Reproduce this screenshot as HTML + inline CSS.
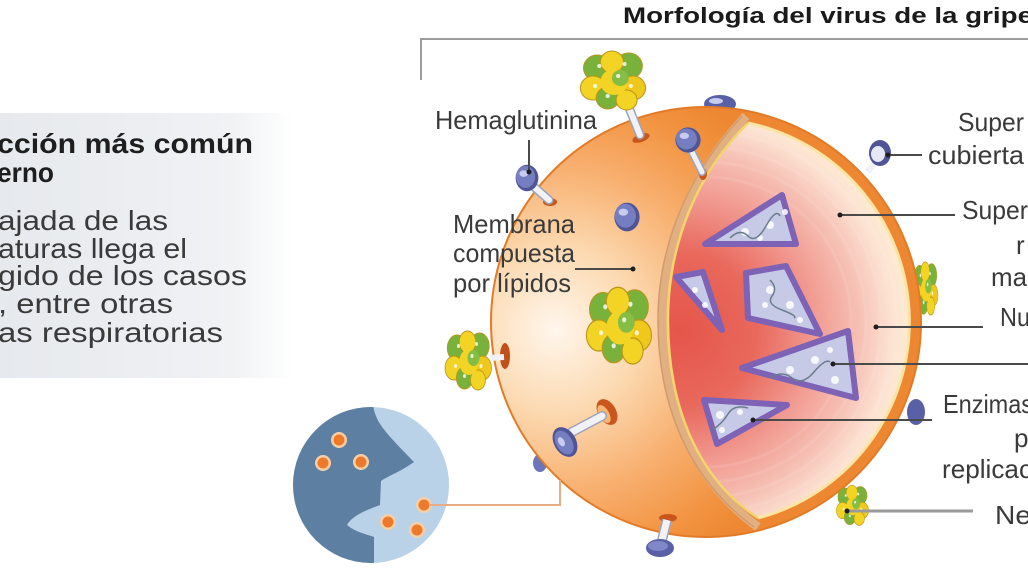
<!DOCTYPE html>
<html><head><meta charset="utf-8">
<style>
html,body{margin:0;padding:0;background:#fff;}
svg{display:block;}
text{font-family:"Liberation Sans",sans-serif;}
</style></head>
<body>
<svg width="1028" height="578" viewBox="0 0 1028 578" xmlns="http://www.w3.org/2000/svg">
<defs>
 <linearGradient id="panel" x1="0" x2="1" y1="0" y2="0">
  <stop offset="0" stop-color="#e6e9ed"/>
  <stop offset="0.8" stop-color="#f0f2f4"/>
  <stop offset="1" stop-color="#ffffff"/>
 </linearGradient>
 <radialGradient id="shell" gradientUnits="userSpaceOnUse" cx="555" cy="330" r="270">
  <stop offset="0" stop-color="#fff6ec"/>
  <stop offset="0.3" stop-color="#fcdab2"/>
  <stop offset="0.6" stop-color="#f8b070"/>
  <stop offset="0.85" stop-color="#f29442"/>
  <stop offset="1" stop-color="#ed8731"/>
 </radialGradient>
 <radialGradient id="core" gradientUnits="userSpaceOnUse" cx="680" cy="330" r="240">
  <stop offset="0" stop-color="#e5554a"/>
  <stop offset="0.32" stop-color="#e9685c"/>
  <stop offset="0.55" stop-color="#f1988f"/>
  <stop offset="0.74" stop-color="#f6bfb3"/>
  <stop offset="0.88" stop-color="#fce2d2"/>
  <stop offset="1" stop-color="#fff0d4"/>
 </radialGradient>
 <clipPath id="sph"><circle cx="706" cy="322" r="215"/></clipPath>
 <clipPath id="inner"><path d="M 748,123 A 203 203 0 0 1 758,518 C 700,480 668,410 668,320 C 668,240 700,170 748,123 Z"/></clipPath>
 <clipPath id="nc"><circle cx="371" cy="485" r="78"/></clipPath>
 <g id="ha">
  <circle cx="-16" cy="-12" r="13" fill="#78b23a" stroke="#b9951c" stroke-width="1"/>
  <circle cx="14" cy="-14" r="13" fill="#78b23a" stroke="#b9951c" stroke-width="1"/>
  <circle cx="-2" cy="-18" r="11" fill="#f3d324" stroke="#b9951c" stroke-width="1"/>
  <circle cx="-20" cy="8" r="12" fill="#f3d324" stroke="#b9951c" stroke-width="1"/>
  <circle cx="18" cy="8" r="12" fill="#f0c81c" stroke="#b9951c" stroke-width="1"/>
  <circle cx="-6" cy="18" r="11" fill="#78b23a" stroke="#b9951c" stroke-width="1"/>
  <circle cx="12" cy="20" r="10" fill="#f3d324" stroke="#b9951c" stroke-width="1"/>
  <circle cx="0" cy="2" r="13" fill="#f3d324"/>
  <circle cx="6" cy="-2" r="8" fill="#86bd44"/>
  <circle cx="-14" cy="-14" r="2" fill="#fff" opacity="0.8"/>
  <circle cx="10" cy="-16" r="2" fill="#fff" opacity="0.8"/>
  <circle cx="-18" cy="6" r="2" fill="#fff" opacity="0.8"/>
  <circle cx="4" cy="-4" r="2" fill="#fff" opacity="0.8"/>
  <circle cx="-6" cy="16" r="2" fill="#fff" opacity="0.8"/>
  <circle cx="16" cy="6" r="2" fill="#fff" opacity="0.8"/>
 </g>
 <g id="na">
  <ellipse rx="12" ry="12" fill="#4f5597"/>
  <ellipse cx="-1.5" cy="-1" rx="10" ry="10" fill="#767ec2"/>
  <ellipse cx="-3.5" cy="-4" rx="4.5" ry="3" fill="#c6cbef"/>
 </g>
</defs>

<!-- left panel -->
<rect x="0" y="113" width="292" height="265" fill="url(#panel)"/>
<text x="-3" y="153" font-size="28" font-weight="bold" fill="#1e1e1e" textLength="256" lengthAdjust="spacingAndGlyphs">cción más común</text>
<text x="-3" y="182" font-size="28" font-weight="bold" fill="#1e1e1e" textLength="57" lengthAdjust="spacingAndGlyphs">erno</text>
<g font-size="28" fill="#3a3a3a">
<text x="-2" y="230" textLength="170" lengthAdjust="spacingAndGlyphs">ajada de las</text>
<text x="-2" y="258" textLength="189" lengthAdjust="spacingAndGlyphs">aturas llega el</text>
<text x="-2" y="285" textLength="249" lengthAdjust="spacingAndGlyphs">gido de los casos</text>
<text x="-2" y="313" textLength="175" lengthAdjust="spacingAndGlyphs">, entre otras</text>
<text x="-2" y="342" textLength="225" lengthAdjust="spacingAndGlyphs">as respiratorias</text>
</g>

<!-- title & bracket -->
<text x="623" y="23" font-size="22" font-weight="bold" fill="#1a1a1a" textLength="410" lengthAdjust="spacingAndGlyphs">Morfología del virus de la gripe</text>
<path d="M 421,80 L 421,39 L 1028,39" fill="none" stroke="#9c9c9c" stroke-width="2"/>

<!-- behind-sphere proteins -->
<ellipse cx="720" cy="104" rx="16" ry="9" fill="#5a60a6"/>
<ellipse cx="716" cy="101" rx="7" ry="3" fill="#c6cbef"/>
<ellipse cx="540" cy="463" rx="7" ry="9" fill="#6d75bb"/>
<ellipse cx="916" cy="412" rx="9" ry="13" fill="#5a60a6"/>
<use href="#ha" transform="translate(926,288) scale(0.4,0.9)"/>

<!-- sphere -->
<circle cx="706" cy="322" r="215" fill="url(#shell)" stroke="#e27b28" stroke-width="2"/>
<g clip-path="url(#sph)">
 <path d="M 750,116 C 700,170 666,240 666,320 C 666,410 700,482 762,527" fill="none" stroke="#e0b083" stroke-width="9" transform="translate(-4,0)"/>
 <path d="M 750,116 C 700,170 666,240 666,320 C 666,410 700,482 762,527" fill="none" stroke="#d39a6c" stroke-width="1.5" transform="translate(-8,0)"/>
</g>
<path d="M 748,123 A 203 203 0 0 1 758,518 C 700,480 668,410 668,320 C 668,240 700,170 748,123 Z" fill="url(#core)"/>
<g clip-path="url(#inner)" fill="none" stroke="#ffffff" stroke-opacity="0.09" stroke-width="3">
 <circle cx="706" cy="322" r="190"/>
 <circle cx="706" cy="322" r="175"/>
 <circle cx="706" cy="322" r="160"/>
 <circle cx="706" cy="322" r="145"/>
</g>
<path d="M 748,123 A 203 203 0 0 1 758,518" fill="none" stroke="#fbe4a4" stroke-width="3"/>
<path d="M 748,123 C 700,170 668,240 668,320 C 668,410 700,480 758,518" fill="none" stroke="#f5d46c" stroke-width="2.5"/>

<!-- triangles (RNP) -->
<g stroke="#7d62b5" stroke-width="6" stroke-linejoin="round" fill="#c7cae6">
 <polygon points="705,244 782,195 796,244"/>
 <polygon points="746,273 786,266 820,334 748,318"/>
 <polygon points="676,277 703,272 722,330"/>
 <polygon points="742,368 848,331 856,398"/>
 <polygon points="704,400 787,405 717,444"/>
</g>
<g fill="#ffffff" opacity="0.85">
 <circle cx="745" cy="232" r="4"/><circle cx="770" cy="225" r="4"/><circle cx="785" cy="212" r="3"/><circle cx="760" cy="238" r="3"/>
 <circle cx="770" cy="290" r="4"/><circle cx="790" cy="305" r="4"/><circle cx="765" cy="305" r="3"/><circle cx="800" cy="320" r="3"/>
 <circle cx="695" cy="290" r="3"/><circle cx="705" cy="305" r="3"/>
 <circle cx="790" cy="370" r="4"/><circle cx="815" cy="360" r="4"/><circle cx="835" cy="380" r="4"/><circle cx="830" cy="350" r="3"/>
 <circle cx="720" cy="415" r="4"/><circle cx="740" cy="412" r="3"/><circle cx="722" cy="430" r="3"/>
</g>
<g fill="none" stroke="#6b7c8c" stroke-width="1.5">
 <path d="M 730,238 q 10,-10 18,-2 t 18,-10 t 14,-10"/>
 <path d="M 770,280 q 8,8 2,16 t 10,14 t 12,8"/>
 <path d="M 770,378 q 12,-8 22,0 t 22,-6 t 16,-10"/>
 <path d="M 712,430 q 10,-6 16,-16 t 20,-6"/>
</g>

<!-- front surface proteins -->
<ellipse cx="641" cy="138" rx="9" ry="4" fill="#c9561c" transform="rotate(-20 641 138)"/>
<line x1="625" y1="98" x2="640" y2="135" stroke="#9ea3bc" stroke-width="9" stroke-linecap="round"/>
<line x1="625" y1="98" x2="640" y2="135" stroke="#f1f2f8" stroke-width="6" stroke-linecap="round"/>
<use href="#ha" transform="translate(614,80) scale(1.05,1.0)"/>

<ellipse cx="550" cy="202" rx="7" ry="4" fill="#c9561c"/>
<line x1="533" y1="186" x2="549" y2="200" stroke="#9ea3bc" stroke-width="9" stroke-linecap="round"/>
<line x1="533" y1="186" x2="549" y2="200" stroke="#f1f2f8" stroke-width="6" stroke-linecap="round"/>
<use href="#na" transform="translate(527,178) scale(0.95,1.1)"/>

<ellipse cx="703" cy="174" rx="4" ry="6" fill="#c9561c"/>
<line x1="691" y1="150" x2="702" y2="172" stroke="#9ea3bc" stroke-width="8" stroke-linecap="round"/>
<line x1="691" y1="150" x2="702" y2="172" stroke="#eef0f6" stroke-width="5" stroke-linecap="round"/>
<use href="#na" transform="translate(688,140) scale(1.05)"/>

<use href="#na" transform="translate(627,217) scale(1.05,1.2)"/>
<use href="#ha" transform="translate(620,325) scale(1.05,1.3)"/>

<ellipse cx="505" cy="356" rx="5" ry="13" fill="#c0501a"/>
<line x1="490" y1="358" x2="504" y2="357" stroke="#f1f2f8" stroke-width="6"/>
<use href="#ha" transform="translate(469,360) scale(0.75,1.0)"/>

<ellipse cx="607" cy="412" rx="9" ry="14" fill="#c9561c" transform="rotate(-30 607 412)"/>
<ellipse cx="604" cy="414" rx="5" ry="10" fill="#f7b573" transform="rotate(-30 604 414)"/>
<line x1="572" y1="432" x2="602" y2="416" stroke="#9ea3bc" stroke-width="10" stroke-linecap="round"/>
<line x1="572" y1="432" x2="602" y2="416" stroke="#f1f2f8" stroke-width="7" stroke-linecap="round"/>
<g transform="translate(565,442) rotate(-30)"><ellipse rx="11" ry="16" fill="#4f5597"/><ellipse cx="-1" rx="8" ry="13" fill="#767ec2"/><ellipse cx="-3" cy="-2" rx="3" ry="5" fill="#c6cbef"/></g>

<ellipse cx="668" cy="518" rx="9" ry="4" fill="#c9561c"/>
<line x1="662" y1="540" x2="667" y2="520" stroke="#9ea3bc" stroke-width="10"/>
<line x1="662" y1="540" x2="667" y2="520" stroke="#f1f2f8" stroke-width="7"/>
<ellipse cx="660" cy="548" rx="14" ry="9" fill="#5a60a6"/>
<ellipse cx="658" cy="546" rx="10" ry="5" fill="#8088c8"/>

<line x1="878" y1="160" x2="867" y2="172" stroke="#f1f2f8" stroke-width="6"/>
<g transform="translate(880,153)"><ellipse rx="11" ry="13" fill="#4f5597"/><ellipse cx="-2" cy="1" rx="7" ry="8" fill="#e6e8f6"/></g>

<use href="#ha" transform="translate(853,505) scale(0.52,0.68)"/>

<!-- label connector lines -->
<g stroke="#4a4a4a" stroke-width="2" fill="none">
 <line x1="529" y1="140" x2="529" y2="172"/>
 <line x1="575" y1="269" x2="633" y2="269"/>
 <line x1="888" y1="155" x2="922" y2="155"/>
 <line x1="840" y1="215" x2="955" y2="215"/>
 <line x1="876" y1="327" x2="983" y2="327"/>
 <line x1="833" y1="364" x2="1028" y2="364"/>
 <line x1="753" y1="420" x2="932" y2="420"/>
</g>
<line x1="847" y1="511" x2="973" y2="511" stroke="#9a9a9a" stroke-width="3"/>
<g fill="#1e1e1e">
 <circle cx="529" cy="172" r="2.5"/>
 <circle cx="633" cy="269" r="2.5"/>
 <circle cx="888" cy="155" r="2.5"/>
 <circle cx="840" cy="215" r="2.5"/>
 <circle cx="876" cy="327" r="2.5"/>
 <circle cx="833" cy="364" r="2.5"/>
 <circle cx="753" cy="420" r="2.5"/>
 <circle cx="847" cy="511" r="2.5"/>
</g>

<!-- labels -->
<g font-size="26" fill="#3a3a3a">
 <text x="435" y="129" textLength="162" lengthAdjust="spacingAndGlyphs">Hemaglutinina</text>
 <text x="453" y="233" textLength="122" lengthAdjust="spacingAndGlyphs">Membrana</text>
 <text x="453" y="262" textLength="122" lengthAdjust="spacingAndGlyphs">compuesta</text>
 <text x="453" y="292" textLength="118" lengthAdjust="spacingAndGlyphs">por lípidos</text>
 <text x="958" y="131" textLength="66" lengthAdjust="spacingAndGlyphs">Super</text>
 <text x="928" y="164" textLength="96" lengthAdjust="spacingAndGlyphs">cubierta</text>
 <text x="962" y="219" textLength="66" lengthAdjust="spacingAndGlyphs">Super</text>
 <text x="1016" y="254">r</text>
 <text x="991" y="286" textLength="36" lengthAdjust="spacingAndGlyphs">ma</text>
 <text x="1000" y="326" textLength="30" lengthAdjust="spacingAndGlyphs">Nu</text>
 <text x="943" y="413" textLength="90" lengthAdjust="spacingAndGlyphs">Enzimas</text>
 <text x="1014" y="447">p</text>
 <text x="942" y="478" textLength="90" lengthAdjust="spacingAndGlyphs">replicac</text>
 <text x="995" y="524" textLength="36" lengthAdjust="spacingAndGlyphs">Ne</text>
</g>

<!-- nose inset -->
<circle cx="371" cy="485" r="78" fill="#b9d2e8"/>
<path clip-path="url(#nc)" fill="#5d80a2" d="M 280,400 L 372,400 L 374,410 C 378,425 386,433 414,462 C 400,472 388,476 381,481 L 380,505 C 366,510 352,516 347,525 C 355,532 366,534 374,537 L 374,570 L 280,570 Z"/>
<g>
 <circle cx="339" cy="440" r="8" fill="#f7cfa6"/><circle cx="339" cy="440" r="5.5" fill="#ec7a2a"/>
 <circle cx="323" cy="463" r="8" fill="#f7cfa6"/><circle cx="323" cy="463" r="5.5" fill="#ec7a2a"/>
 <circle cx="361" cy="462" r="8" fill="#f7cfa6"/><circle cx="361" cy="462" r="5.5" fill="#ec7a2a"/>
 <circle cx="424" cy="505" r="8" fill="#f7cfa6"/><circle cx="424" cy="505" r="5.5" fill="#ec7a2a"/>
 <circle cx="388" cy="522" r="8" fill="#f7cfa6"/><circle cx="388" cy="522" r="5.5" fill="#ec7a2a"/>
 <circle cx="417" cy="530" r="8" fill="#f7cfa6"/><circle cx="417" cy="530" r="5.5" fill="#ec7a2a"/>
</g>
<polyline points="429,505 560,505 560,480" fill="none" stroke="#e6ad85" stroke-width="2"/>
</svg>
</body></html>
